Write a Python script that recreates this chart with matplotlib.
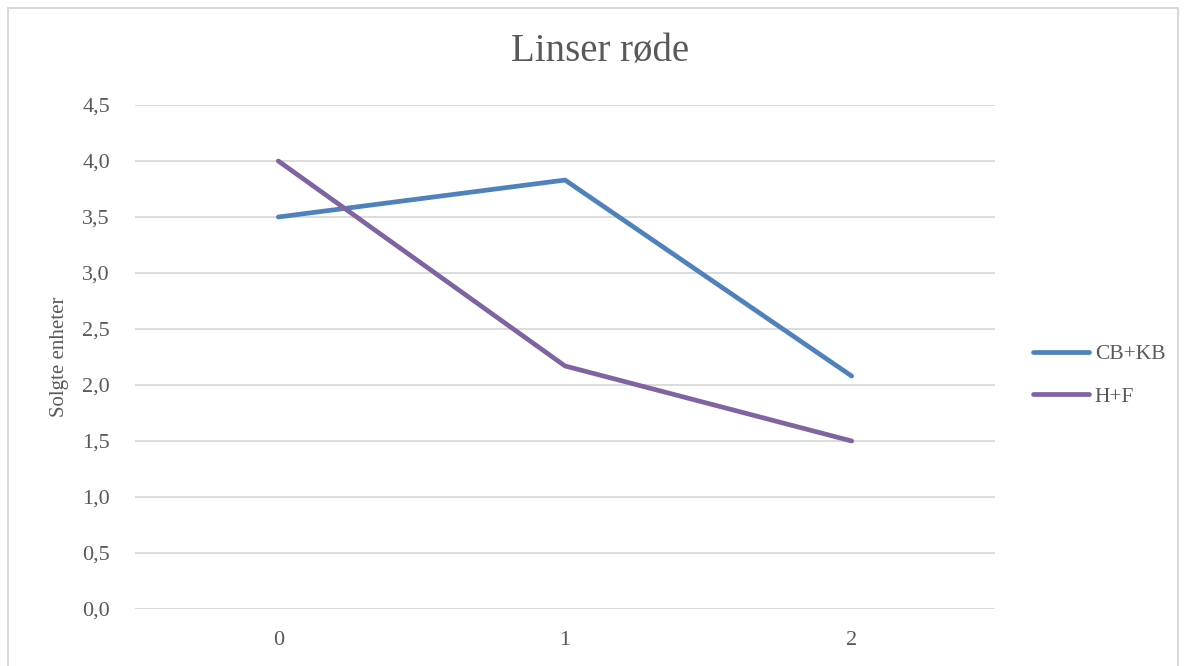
import matplotlib
matplotlib.use("Agg")
from matplotlib import pyplot as plt
from matplotlib.patches import Rectangle

# data
x_labels = ["0", "1", "2"]
cb_kb = [3.5, 3.83, 2.08]
h_f = [4.0, 2.17, 1.5]
y_ticks = [0, 0.5, 1.0, 1.5, 2.0, 2.5, 3.0, 3.5, 4.0, 4.5]

plt.rcParams['font.family'] = ['Liberation Serif', 'DejaVu Serif']
txt = '#595959'
grid = '#d9d9d9'

fig = plt.figure(figsize=(11.87, 6.66), dpi=100)
ax = fig.add_axes([135/1187, 1-609/666, 860/1187, 504/666])

xs = list(range(len(x_labels)))
ax.plot(xs, cb_kb, color='#4f81bd', lw=3.4, solid_capstyle='round', solid_joinstyle='round', label='CB+KB', zorder=3)
ax.plot(xs, h_f, color='#8064a2', lw=3.4, solid_capstyle='round', solid_joinstyle='round', label='H+F', zorder=3)

ax.set_xlim(-0.5, 2.5)
ax.set_ylim(0, 4.5)
ax.set_xticks(xs)
ax.set_xticklabels(x_labels)
ax.set_yticks(y_ticks)
ax.set_yticklabels([f"{v:.1f}".replace('.', ',') for v in y_ticks])
ax.tick_params(length=0, labelsize=16, colors=txt)
ax.tick_params(axis='y', pad=18)
ax.tick_params(axis='x', pad=16)
for s in ax.spines.values():
    s.set_visible(False)
ax.grid(axis='y', color=grid, lw=1.3)
ax.set_axisbelow(True)

ax.set_ylabel('Solgte enheter', fontsize=15, color=txt)
ax.yaxis.set_label_coords((69 - 135) / 860, 0.5)
fig.text(600/1187, 1-52/666, 'Linser røde', fontsize=28, color=txt, ha='center', va='center')

leg = ax.legend(loc='center left', bbox_to_anchor=(1.022, 0.463), frameon=False,
                fontsize=15.5, labelcolor=txt, handlelength=2.6, labelspacing=1.05,
                handletextpad=0.25)

fig.patches.append(Rectangle((8/1187, -0.1), 1170/1187, 1.1 - 8/666, transform=fig.transFigure,
                             fill=False, edgecolor=grid, lw=1.5))

fig.savefig('out.png', dpi=100, facecolor='white')
